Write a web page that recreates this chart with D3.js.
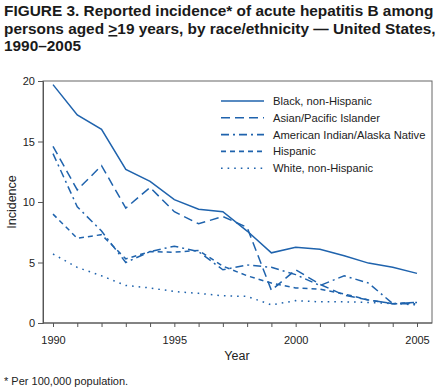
<!DOCTYPE html>
<html><head><meta charset="utf-8">
<script src="https://cdn.jsdelivr.net/npm/d3@7"></script>
<style>
body{margin:0;background:#fff;}
svg{display:block;font-family:"Liberation Sans",Arial,Helvetica,sans-serif;}
</style></head>
<body>
<svg id="c" width="443" height="392"></svg>
<script>
const years = [1990,1991,1992,1993,1994,1995,1996,1997,1998,1999,2000,2001,2002,2003,2004,2005];
const seriesNames = ["Black, non-Hispanic","Asian/Pacific Islander","American Indian/Alaska Native","Hispanic","White, non-Hispanic"];
const black    = [19.7,17.2,16.0,12.7,11.7,10.2,9.4,9.2,7.6,5.8,6.25,6.1,5.55,4.95,4.6,4.1];
const asian    = [14.6,11.0,13.0,9.5,11.2,9.2,8.2,8.8,7.9,2.7,4.4,3.2,2.3,1.9,1.6,1.7];
const amind    = [14.0,9.6,7.6,5.0,5.9,6.35,5.9,4.4,4.8,4.6,4.0,3.1,3.9,3.3,1.6,1.6];
const hispanic = [9.0,7.0,7.3,5.3,5.9,5.85,6.0,4.7,3.9,3.3,2.9,2.8,2.4,1.9,1.6,1.7];
const white    = [5.7,4.6,3.9,3.1,2.9,2.6,2.45,2.25,2.2,1.5,1.85,1.75,1.75,1.7,1.6,1.5];
const yTicks = [0,5,10,15,20];
const xTickLabels = [1990,1995,2000,2005];

const allSeries = [black, asian, amind, hispanic, white];
const dashes = [null, "9,5", "8,4,2,4", "5,4", "1.6,5"];
const blue = "#1f63ad";

const svg = d3.select("#c");
const x = d3.scaleLinear().domain([1990,2005]).range([53,417]);
const y = d3.scaleLinear().domain([0,20]).range([323,81]);

// title
const title = svg.append("g").attr("font-weight","bold").attr("font-size",15.4).attr("fill","#1a1a1a");
title.append("text").attr("x",4).attr("y",16).text("FIGURE 3. Reported incidence* of acute hepatitis B among");
const t2 = title.append("text").attr("x",4).attr("y",34);
t2.append("tspan").text("persons aged ");
t2.append("tspan").attr("text-decoration","underline").text(">");
t2.append("tspan").text("19 years, by race/ethnicity \u2014 United States,");
title.append("text").attr("x",4).attr("y",51).text("1990\u20132005");

// frame
svg.append("rect").attr("x",43).attr("y",81).attr("width",389).attr("height",242)
  .attr("fill","none").attr("stroke","#666").attr("stroke-width",1);

// y axis
const yAxis = svg.append("g").attr("transform","translate(43,0)")
  .call(d3.axisLeft(y).tickValues(yTicks).tickSize(5).tickPadding(3));
yAxis.select(".domain").attr("stroke","#555");
yAxis.selectAll(".tick line").attr("stroke","#555");
yAxis.selectAll(".tick text").attr("font-size",11).attr("fill","#222").attr("font-family","Liberation Sans, Arial, sans-serif");

// x axis
const xAxis = svg.append("g").attr("transform","translate(0,323)")
  .call(d3.axisBottom(x).tickValues(years).tickSize(4).tickPadding(9)
    .tickFormat(d => xTickLabels.includes(d) ? String(d) : ""));
xAxis.select(".domain").remove();
xAxis.append("line").attr("x1",43).attr("x2",432).attr("stroke","#555");
xAxis.selectAll(".tick line").attr("stroke","#555");
xAxis.selectAll(".tick text").attr("font-size",11).attr("fill","#222").attr("font-family","Liberation Sans, Arial, sans-serif");

svg.append("text").attr("x",237).attr("y",360).attr("text-anchor","middle")
  .attr("font-size",12.5).attr("fill","#222").text("Year");
svg.append("text").attr("transform","translate(16,202) rotate(-90)").attr("text-anchor","middle")
  .attr("font-size",12.5).attr("fill","#222").text("Incidence");

// lines
const line = d3.line().x((d,i)=>x(years[i])).y(d=>y(d));
allSeries.forEach((s,k)=>{
  svg.append("path").datum(s).attr("d",line).attr("fill","none")
    .attr("stroke",blue).attr("stroke-width",1.5)
    .attr("stroke-dasharray",dashes[k]);
});

// legend
const lg = svg.append("g");
seriesNames.forEach((n,k)=>{
  const yy = 101 + k*16.8;
  lg.append("line").attr("x1",221).attr("x2",264).attr("y1",yy).attr("y2",yy)
    .attr("stroke",blue).attr("stroke-width",1.6).attr("stroke-dasharray",dashes[k]);
  lg.append("text").attr("x",273).attr("y",yy+4).attr("font-size",11.2).attr("fill","#222").text(n);
});

// footnote
svg.append("text").attr("x",4).attr("y",385).attr("font-size",11).attr("fill","#222").text("* Per 100,000 population.");
</script>
</body></html>
